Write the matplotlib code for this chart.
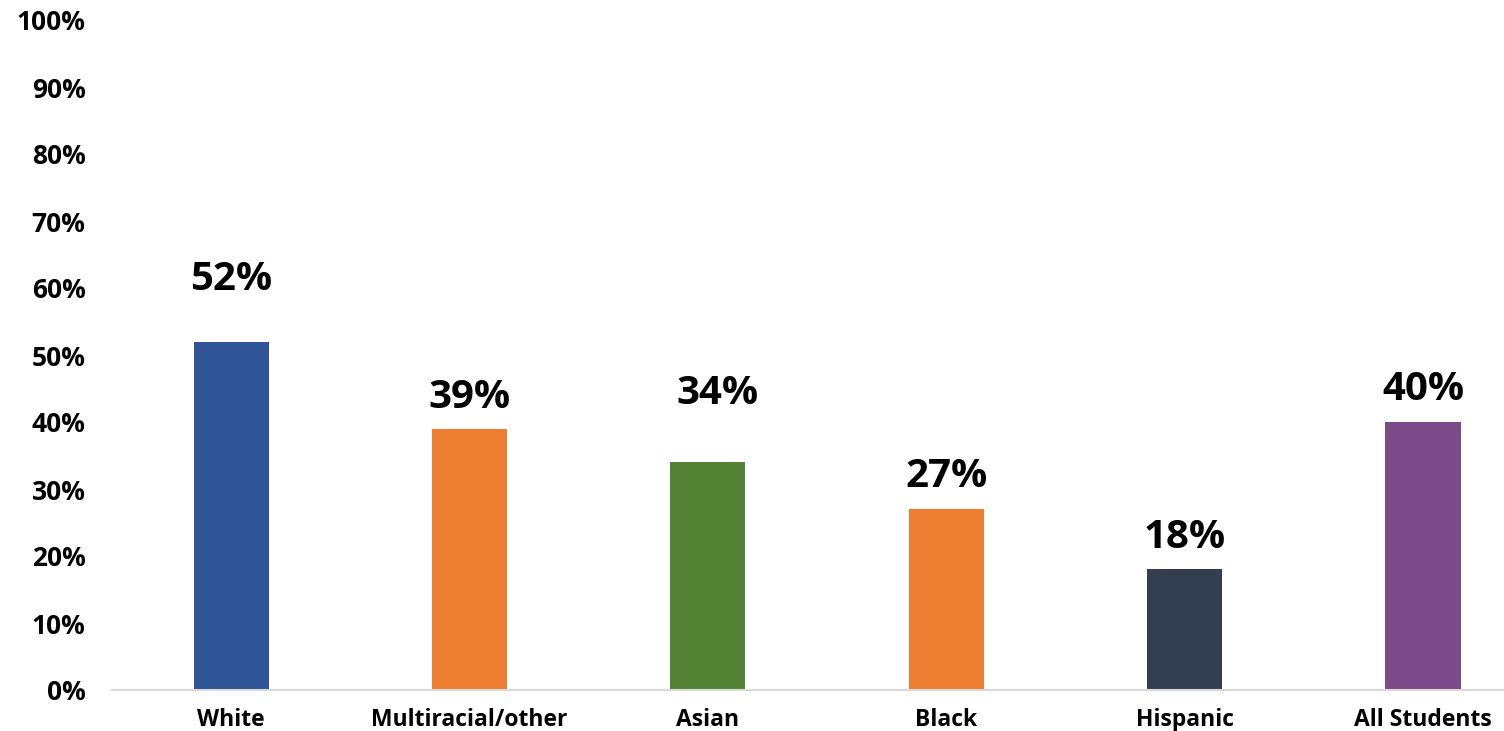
import matplotlib
matplotlib.use("Agg")
import matplotlib.pyplot as plt

categories = ["White", "Multiracial/other", "Asian", "Black", "Hispanic", "All Students"]
values = [52, 39, 34, 27, 18, 40]
colors = ["#2F5597", "#ED7D31", "#548235", "#ED7D31", "#333F50", "#7A4A89"]
label_offsets = [9.2, 4.7, 10.3, 4.8, 4.8, 4.8]
label_dx = [0.0, 0.0, 0.04, 0.0, 0.0, 0.0]
yticks = list(range(0, 101, 10))
ytick_labels = [f"{t}%" for t in yticks]

plt.rcParams['font.family'] = ['Open Sans', 'DejaVu Sans']

fig = plt.figure(figsize=(15.04, 7.31), dpi=100)
ax = fig.add_axes([112/1504, 41/731, 1 - 112/1504, (690-20)/731])

x = list(range(len(categories)))
ax.bar(x, values, width=0.315, color=colors, zorder=2)

for xi, v, off, dx in zip(x, values, label_offsets, label_dx):
    ax.text(xi + dx, v + off, f"{v}%", ha="center", va="center",
            fontsize=29, fontweight="bold", color="black")

ax.set_ylim(0, 100)
ax.set_xlim(-0.5, 5.34)
ax.set_yticks(yticks)
ax.set_yticklabels(ytick_labels, fontsize=19, fontweight="bold")
ax.set_xticks(x)
ax.set_xticklabels(categories, fontsize=16.5, fontweight="bold")
ax.tick_params(axis="y", length=0, pad=19)
ax.tick_params(axis="x", length=0, pad=13)

for s in ["top", "right", "left"]:
    ax.spines[s].set_visible(False)
ax.spines["bottom"].set_color("#D9D9D9")
ax.spines["bottom"].set_linewidth(1.5)

fig.savefig("out.png", dpi=100)
